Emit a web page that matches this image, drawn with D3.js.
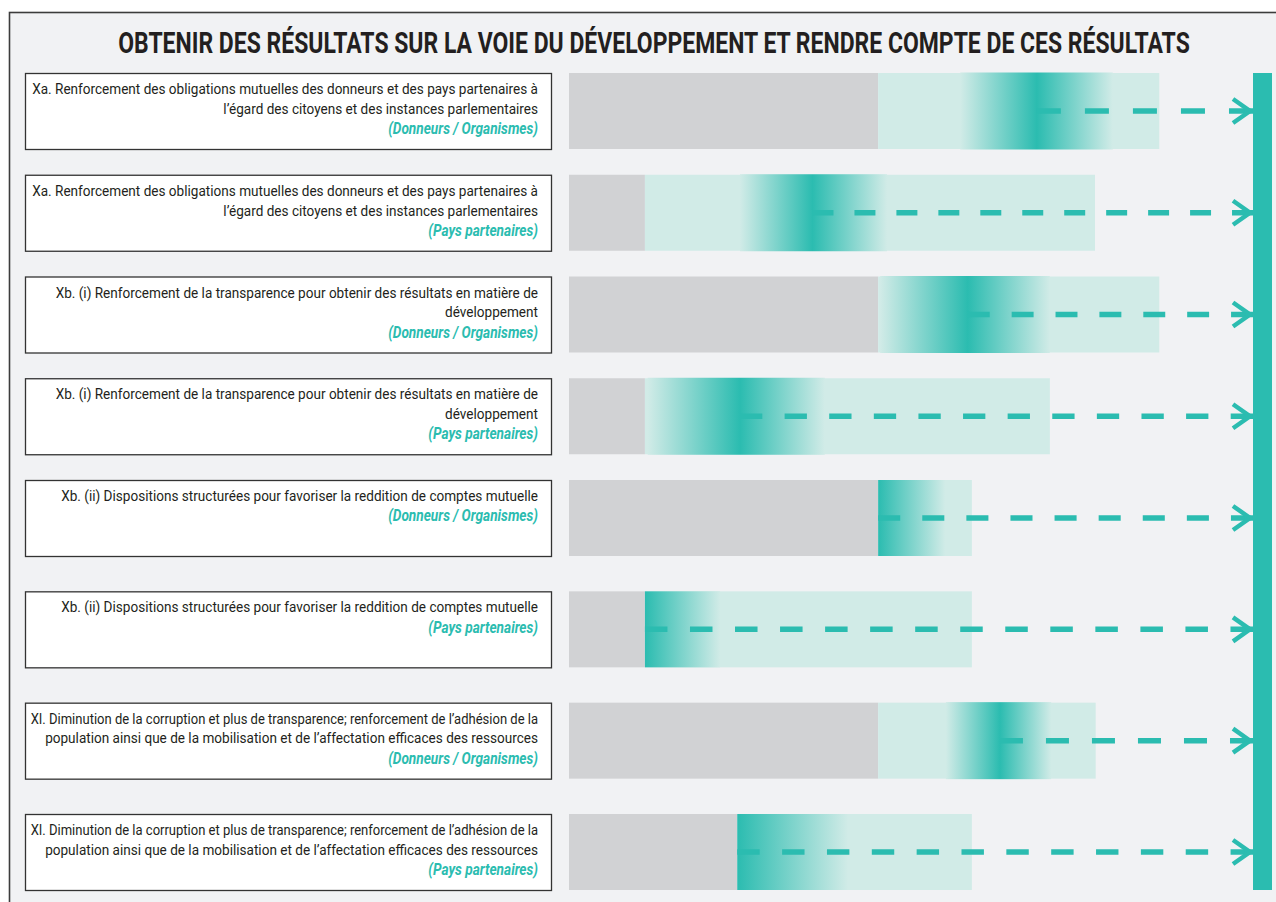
<!DOCTYPE html>
<html lang="fr">
<head>
    <meta charset="UTF-8">
    <title>Obtenir des résultats sur la voie du développement</title>
    <script src="https://d3js.org/d3.v7.min.js"></script>
    <style>
        body { margin: 0; background: #fff; }
        svg { display: block; }
        .title { font-family: Roboto, "DejaVu Sans Condensed", sans-serif; font-weight: bold; font-size: 30px; fill: #231f20; }
        .lbl { font-family: Roboto, "DejaVu Sans Condensed", sans-serif; font-size: 15px; fill: #231f20; }
        .grp { font-family: Roboto, "DejaVu Sans Condensed", sans-serif; font-size: 16.5px; font-weight: bold; font-style: italic; fill: #2bbcb0; }
    </style>
</head>
<body>
    <svg width="1276" height="902"></svg>

    <script>
        const title = "OBTENIR DES RÉSULTATS SUR LA VOIE DU DÉVELOPPEMENT ET RENDRE COMPTE DE CES RÉSULTATS";

        const indicators = [
            ["Xa. Renforcement des obligations mutuelles des donneurs et des pays partenaires à", "l’égard des citoyens et des instances parlementaires"],
            ["Xa. Renforcement des obligations mutuelles des donneurs et des pays partenaires à", "l’égard des citoyens et des instances parlementaires"],
            ["Xb. (i) Renforcement de la transparence pour obtenir des résultats en matière de", "développement"],
            ["Xb. (i) Renforcement de la transparence pour obtenir des résultats en matière de", "développement"],
            ["Xb. (ii) Dispositions structurées pour favoriser la reddition de comptes mutuelle"],
            ["Xb. (ii) Dispositions structurées pour favoriser la reddition de comptes mutuelle"],
            ["XI. Diminution de la corruption et plus de transparence; renforcement de l’adhésion de la", "population ainsi que de la mobilisation et de l’affectation efficaces des ressources"],
            ["XI. Diminution de la corruption et plus de transparence; renforcement de l’adhésion de la", "population ainsi que de la mobilisation et de l’affectation efficaces des ressources"]
        ];
        const groups = [
            "(Donneurs / Organismes)", "(Pays partenaires)",
            "(Donneurs / Organismes)", "(Pays partenaires)",
            "(Donneurs / Organismes)", "(Pays partenaires)",
            "(Donneurs / Organismes)", "(Pays partenaires)"
        ];

        // progress scale 0..100, target = 100
        const baseline  = [45.2, 11.1, 45.2, 11.1, 45.2, 11.1, 45.2, 24.6];
        const gradStart = [57.2, 25.0, 45.5, 11.5, 45.2, 11.1, 55.1, 24.6];
        const peak      = [68.4, 35.6, 58.3, 25.0, 45.2, 11.1, 63.0, 24.6];
        const gradEnd   = [79.5, 46.5, 70.3, 37.4, 55.0, 22.1, 70.5, 40.8];
        const rangeEnd  = [86.3, 76.9, 86.3, 70.3, 58.9, 58.9, 77.0, 58.9];
        const target = 100;

        const teal = "#2bbcb0", light = "#d1ebe7", grey = "#d1d2d4", bg = "#f1f2f4";

        const svg = d3.select("svg");
        const defs = svg.append("defs");

        const x = d3.scaleLinear().domain([0, 100]).range([569, 1253]);
        const y = d3.scaleLinear().domain([0, 4, 7]).range([73, 480, 814]);
        const barH = 76;
        const rows = d3.range(indicators.length);

        // frame
        svg.append("rect").attr("x", 9.5).attr("y", 12.5).attr("width", 1400).attr("height", 1000)
            .attr("fill", bg).attr("stroke", "#3c3c3c").attr("stroke-width", 1.6);

        // the original uses a condensed face; squeeze a regular one horizontally
        function textWidth(cls, t) {
            const p = svg.append("text").attr("class", cls).text(t);
            const w = p.node().getComputedTextLength();
            p.remove();
            return w;
        }

        const tg = svg.append("g");
        tg.append("text").attr("class", "title").attr("text-anchor", "middle").text(title);
        const tk = 1072 / textWidth("title", title);
        tg.attr("transform", `translate(654,53) scale(${tk},1)`);

        const k = 506 / textWidth("lbl", indicators[0][0]);
        const kg = 150 / textWidth("grp", groups[0]);

        // label boxes
        const lab = svg.selectAll(".label").data(rows).enter().append("g")
            .attr("class", "label")
            .attr("transform", i => `translate(0,${y(i)})`);

        lab.append("rect").attr("x", 25.5).attr("y", 0.5).attr("width", 526).attr("height", barH)
            .attr("fill", "#fff").attr("stroke", "#333").attr("stroke-width", 1.3);

        lab.each(function (i) {
            const g = d3.select(this);
            const lines = indicators[i];
            lines.forEach((t, j) => {
                const s = Math.min(k, 508 / textWidth("lbl", t));
                g.append("g")
                    .attr("transform", `translate(538,${21 + j * 19.8}) scale(${s},1)`)
                    .append("text").attr("class", "lbl")
                    .attr("text-anchor", "end").text(t);
            });
            g.append("g")
                .attr("transform", `translate(538,${21.5 + lines.length * 19.8}) scale(${kg},1)`)
                .append("text").attr("class", "grp")
                .attr("text-anchor", "end").text(groups[i]);
        });

        // gradients
        rows.forEach(i => {
            const off = (peak[i] - gradStart[i]) / (gradEnd[i] - gradStart[i]);
            const lg = defs.append("linearGradient").attr("id", "grad" + i)
                .attr("x1", 0).attr("x2", 1).attr("y1", 0).attr("y2", 0);
            if (off > 0) lg.append("stop").attr("offset", 0).attr("stop-color", light);
            lg.append("stop").attr("offset", off).attr("stop-color", teal);
            lg.append("stop").attr("offset", 1).attr("stop-color", light);
        });

        const bars = svg.selectAll(".bar").data(rows).enter().append("g")
            .attr("class", "bar")
            .attr("transform", i => `translate(0,${y(i)})`);

        bars.append("rect").attr("x", x(0)).attr("y", 0)
            .attr("width", i => x(baseline[i]) - x(0)).attr("height", barH).attr("fill", grey);

        bars.append("rect").attr("x", i => x(baseline[i])).attr("y", 0)
            .attr("width", i => x(rangeEnd[i]) - x(baseline[i])).attr("height", barH).attr("fill", light);

        bars.append("rect").attr("x", i => x(gradStart[i])).attr("y", i => gradStart[i] > baseline[i] ? -0.5 : 0)
            .attr("width", i => x(gradEnd[i]) - x(gradStart[i]))
            .attr("height", i => gradStart[i] > baseline[i] ? barH + 1 : barH)
            .attr("fill", i => `url(#grad${i})`);

        // dashed arrows from the current value to the target
        bars.append("line")
            .attr("x1", i => x(peak[i])).attr("x2", x(target))
            .attr("y1", barH / 2).attr("y2", barH / 2)
            .attr("stroke", teal).attr("stroke-width", 5.5)
            .attr("stroke-dasharray", i => {
                const len = x(target) - x(peak[i]);
                const n = 2 * Math.round((len / 22 + 1) / 2) - 1;
                const u = len / n;
                return `${u} ${u}`;
            });

        bars.append("path")
            .attr("d", `M${x(target) - 20},${barH / 2 - 12}L${x(target) - 3},${barH / 2}L${x(target) - 20},${barH / 2 + 12}`)
            .attr("fill", "none").attr("stroke", teal).attr("stroke-width", 4.5)
            .attr("stroke-linejoin", "miter");

        // target bar
        svg.append("rect").attr("x", x(target)).attr("y", y(0))
            .attr("width", 19).attr("height", y(rows.length - 1) + barH - y(0))
            .attr("fill", teal);
    </script>
</body>
</html>
